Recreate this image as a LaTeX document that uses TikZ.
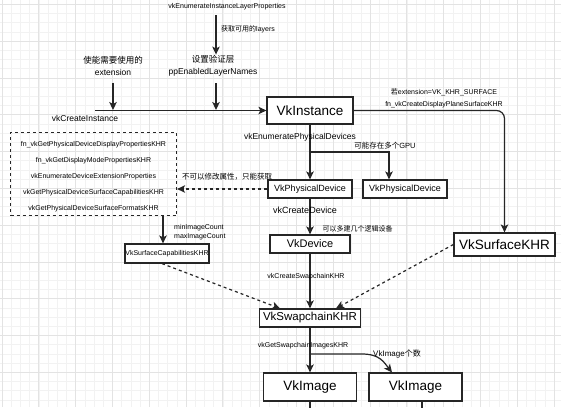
\documentclass[tikz,border=0pt]{standalone}
\usepackage{fontspec}
\setmainfont{Liberation Sans}
\newfontfamily\cjk{Noto Sans CJK SC}
\usepackage{tikz}
\usetikzlibrary{arrows.meta}
\usetikzlibrary{positioning}
\begin{document}
\begin{tikzpicture}[x=1pt,y=-1pt,
  gridminor/.style={line width=0.6pt,draw=black!5},
  gridmajor/.style={line width=0.7pt,draw=black!11},
  vkbox/.style={draw=black!85,line width=1.2pt,inner sep=0pt,fill=white},
  tip/.style={font=\fontsize{7}{8.5}\selectfont,inner sep=1pt},
  note/.style={font=\fontsize{8.5}{11.5}\selectfont,inner sep=1pt},
  flow/.style={draw=black!85,line width=1.2pt,-{Stealth[length=8pt,width=7.5pt,inset=2pt]}},
  dflow/.style={flow,dashed}]
\useasboundingbox (0,0) rectangle (561,407);
% background grid
\foreach \k in {0,...,61} \draw[gridminor] ({2+9.2*\k},0) -- ({2+9.2*\k},407);
\foreach \k in {0,...,44} \draw[gridminor] (0,{4.3+9.2*\k}) -- (561,{4.3+9.2*\k});
\foreach \k in {0,...,15} \draw[gridmajor] ({2+36.8*\k},0) -- ({2+36.8*\k},407);
\foreach \k in {0,...,11} \draw[gridmajor] (0,{4.3+36.8*\k}) -- (561,{4.3+36.8*\k});

% instance
\node[tip] (layerfn) at (227,7) {vkEnumerateInstanceLayerProperties};
\node[note,align=center] (layerset) at (213,66) {{\cjk 设置验证层}\\ppEnabledLayerNames};
\node[note,align=center] (extset) at (113,66) {{\cjk 使能需要使用的}\\extension};
\node[vkbox,minimum width=86pt,minimum height=27pt,font=\fontsize{13.5}{16}\selectfont] (instance) at (310,110.5) {VkInstance};
\node[note] (createinst) at (85,118) {vkCreateInstance};
\coordinate (ci) at (95,110.5);
\coordinate (extin) at (113,110);
\coordinate (layerin) at (216,110);
\draw[flow] (ci) -- (instance);
\draw[flow,shorten <=4pt] (layerfn.south -| layerin) -- (layerset.north -| layerin);
\node[tip,anchor=west] at (220,29) {{\cjk 获取可用的}layers};
\draw[flow,shorten <=6pt] (extset.south -| extin) -- (extin);
\draw[flow,shorten <=6pt] (layerset.south -| layerin) -- (layerin);

% surface
\node[vkbox,minimum width=101pt,minimum height=23pt,font=\fontsize{13.5}{16}\selectfont] (surface) at (504.5,244.5) {VkSurfaceKHR};
\draw[flow,rounded corners=8pt] (instance.east) -- (surface.north |- instance.east) -- (surface.north);
\node[tip,align=center,font=\fontsize{7}{12}\selectfont] at (444,98) {{\cjk 若}extension=VK\_KHR\_SURFACE\\fn\_vkCreateDisplayPlaneSurfaceKHR};

% physical devices
\node[vkbox,minimum width=84pt,minimum height=18pt,font=\fontsize{9}{11}\selectfont] (physdev1) at (310,189) {VkPhysicalDevice};
\node[vkbox,minimum width=84pt,minimum height=18pt,font=\fontsize{9}{11}\selectfont] (physdev2) at (405,189) {VkPhysicalDevice};
\draw[flow] (instance) -- (physdev1);
\node[note] at (300,137) {vkEnumeratePhysicalDevices};
\coordinate (gpusplit) at (310,152);
\draw[flow] (gpusplit) -| ([xshift=-16pt]physdev2.north);
\node[tip,font=\fontsize{7.5}{9}\selectfont] at (385,146) {{\cjk 可能存在多个}GPU};

% properties
\node[draw=black!85,dashed,line width=1.2pt,minimum width=166pt,minimum height=82pt,align=center,
  font=\fontsize{7}{16}\selectfont] (props) at (93.5,174)
  {\rule{0pt}{11pt}fn\_vkGetPhysicalDeviceDisplayPropertiesKHR\\fn\_vkGetDisplayModePropertiesKHR\\vkEnumerateDeviceExtensionProperties\\vkGetPhysicalDeviceSurfaceCapabilitiesKHR\\vkGetPhysicalDeviceSurfaceFormatsKHR};
\draw[dflow] (physdev1) -- (props.east |- physdev1);
\node[tip,font=\fontsize{7.5}{9}\selectfont\cjk] at (227,177) {不可以修改属性，只能获取};

\node[vkbox,minimum width=84pt,minimum height=19pt,font=\fontsize{7}{9}\selectfont] (caps) at (167,253.5) {VkSurfaceCapabilitiesKHR};
\draw[flow] ([xshift=-4pt]caps.north |- props.south) -- ([xshift=-4pt]caps.north);
\node[tip,anchor=west,align=left,font=\fontsize{7}{9}\selectfont] at (173,232.5) {minImageCount\\maxImageCount};

% logical device
\node[vkbox,minimum width=80pt,minimum height=18pt,font=\fontsize{11}{13}\selectfont] (device) at (310,244) {VkDevice};
\draw[flow] (physdev1) -- (device);
\node[note,font=\fontsize{9}{11}\selectfont] at (305,210) {vkCreateDevice};
\node[tip,font=\fontsize{7}{9}\selectfont\cjk] at (357.5,229) {可以多建几个逻辑设备};

% swapchain
\node[vkbox,minimum width=101pt,minimum height=18pt,font=\fontsize{11.5}{13}\selectfont] (swapchain) at (310,318) {VkSwapchainKHR};
\draw[flow] (device) -- (swapchain);
\node[tip] at (306,277) {vkCreateSwapchainKHR};
\draw[dflow] ([xshift=-5pt]caps.south) -- ([xshift=-30pt]swapchain.north);
\draw[dflow] (surface.west) -- ([xshift=26pt]swapchain.north);

% images
\node[vkbox,minimum width=93pt,minimum height=28pt,font=\fontsize{13.5}{16}\selectfont] (image1) at (310,387) {VkImage};
\node[vkbox,minimum width=93pt,minimum height=28pt,font=\fontsize{13.5}{16}\selectfont] (image2) at (415.5,387) {VkImage};
\draw[flow] (swapchain) -- (image1);
\node[tip] at (303,346) {vkGetSwapchainImagesKHR};
\coordinate (imgsplit) at (310,354);
\draw[flow] (imgsplit) -- ++(52,0) .. controls +(18,0) and +(-8,-10) .. ([xshift=-23.5pt]image2.north);
\node[tip,font=\fontsize{8}{9}\selectfont] at (397,354) {VkImage{\cjk 个数}};
\coordinate (img1out) at (310,412);
\coordinate (img2out) at (422,412);
\draw[draw=black!85,line width=1.2pt] (image1) -- (img1out);
\draw[draw=black!85,line width=1.2pt] (image2.south -| img2out) -- (img2out);
\end{tikzpicture}
\end{document}
